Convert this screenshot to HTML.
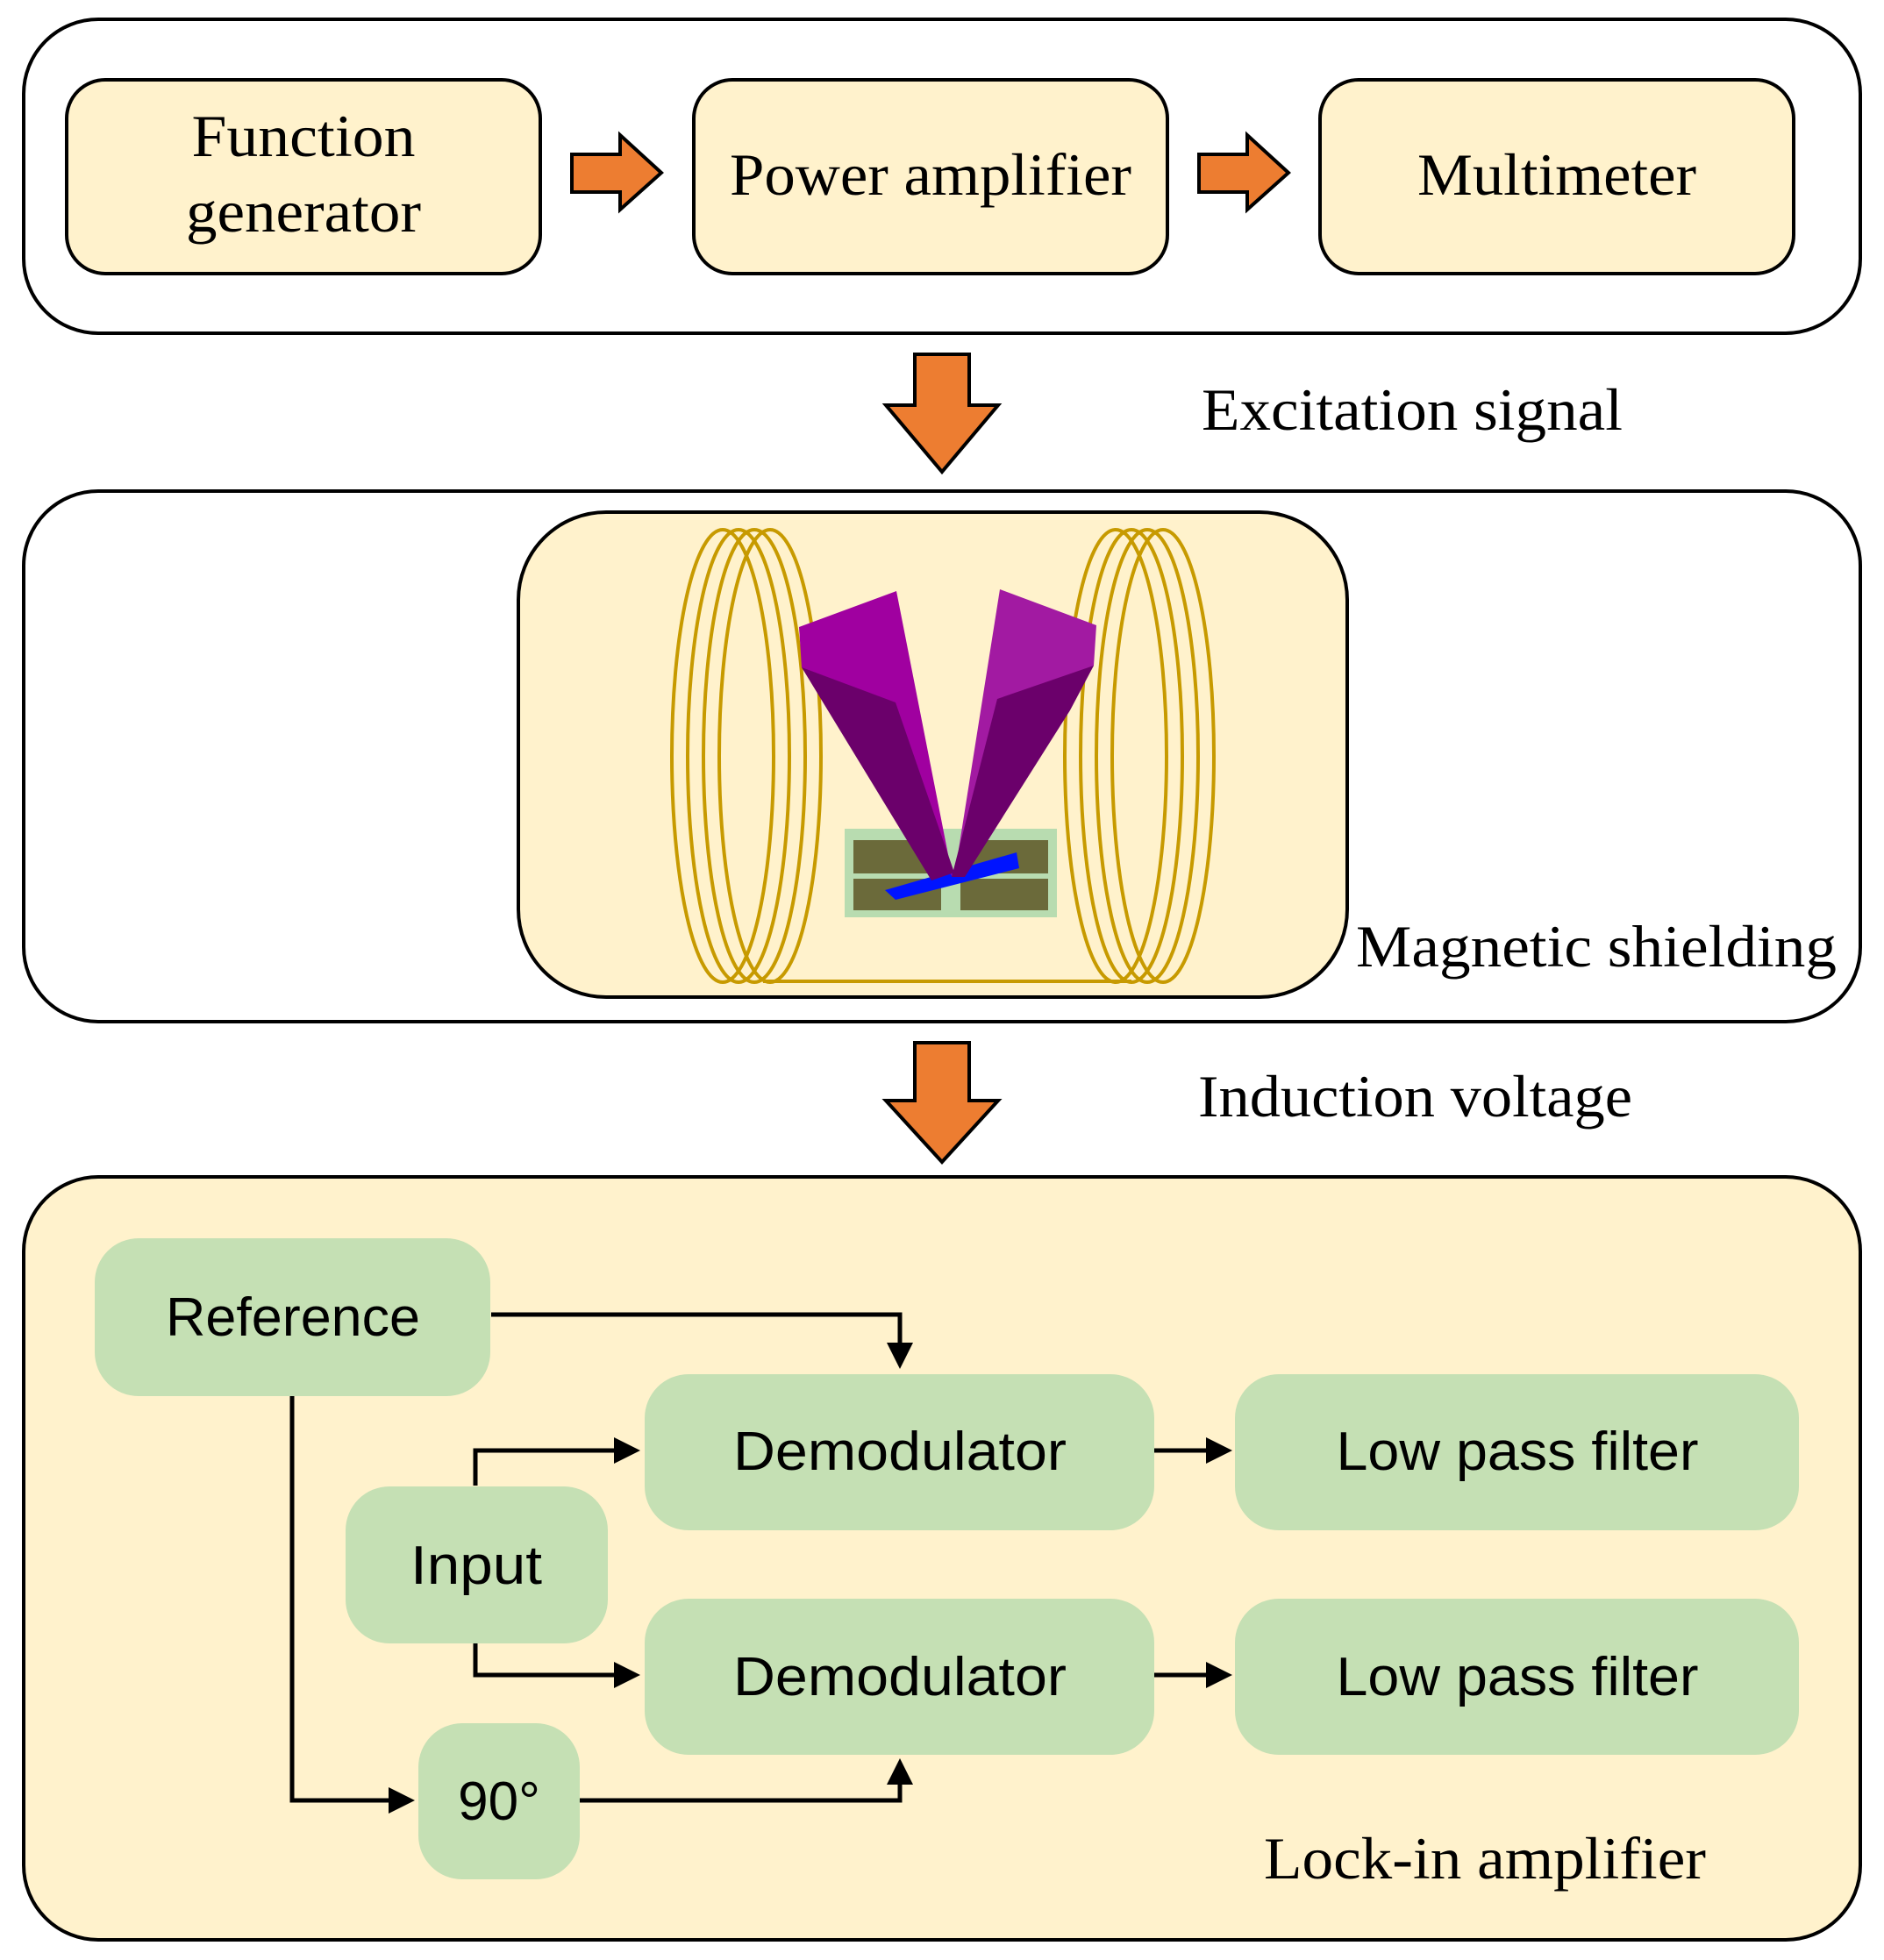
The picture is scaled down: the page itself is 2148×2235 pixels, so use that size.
<!DOCTYPE html>
<html><head><meta charset="utf-8"><style>html,body{margin:0;padding:0;background:#fff}svg{display:block}</style></head>
<body>
<svg width="2148" height="2235" viewBox="0 0 2148 2235" xmlns="http://www.w3.org/2000/svg">
<defs>
<marker id="ah" markerWidth="6" markerHeight="6" refX="5" refY="3" orient="auto" markerUnits="strokeWidth">
<path d="M0,0 L6,3 L0,6 z" fill="#000"/></marker>
</defs>
<g font-family="'Liberation Serif', serif" fill="#000">
<rect x="27" y="22" width="2094" height="358" rx="85" fill="#fff" stroke="#000" stroke-width="4"/>
<rect x="76" y="91" width="540" height="221" rx="44" fill="#fff2cc" stroke="#000" stroke-width="4"/>
<rect x="791" y="91" width="540" height="221" rx="44" fill="#fff2cc" stroke="#000" stroke-width="4"/>
<rect x="1505" y="91" width="540" height="221" rx="44" fill="#fff2cc" stroke="#000" stroke-width="4"/>
<text x="346" y="178" font-size="68" text-anchor="middle" textLength="255" lengthAdjust="spacingAndGlyphs">Function</text>
<text x="346" y="264" font-size="68" text-anchor="middle" textLength="268" lengthAdjust="spacingAndGlyphs">generator</text>
<text x="1061" y="222" font-size="68" text-anchor="middle" textLength="458" lengthAdjust="spacingAndGlyphs">Power amplifier</text>
<text x="1775" y="222" font-size="68" text-anchor="middle" textLength="318" lengthAdjust="spacingAndGlyphs">Multimeter</text>
<path d="M652,176 L707,176 L707,154 L754,197 L707,239 L707,219 L652,219 z" fill="#ed7d31" stroke="#000" stroke-width="4"/>
<path d="M1367,176 L1422,176 L1422,154 L1469,197 L1422,239 L1422,219 L1367,219 z" fill="#ed7d31" stroke="#000" stroke-width="4"/>
<path d="M1043,404 L1105,404 L1105,462 L1138,462 L1074,538 L1010,462 L1043,462 z" fill="#ed7d31" stroke="#000" stroke-width="4"/>
<text x="1370" y="490" font-size="68" textLength="480" lengthAdjust="spacingAndGlyphs">Excitation signal</text>
<rect x="27" y="560" width="2094" height="605" rx="85" fill="#fff" stroke="#000" stroke-width="4"/>
<rect x="591" y="584" width="945" height="553" rx="100" fill="#fff2cc" stroke="#000" stroke-width="4"/>
<g fill="none" stroke="#c79a00" stroke-width="4">
<ellipse cx="824" cy="862" rx="58" ry="258"/>
<ellipse cx="842" cy="862" rx="58" ry="258"/>
<ellipse cx="860" cy="862" rx="58" ry="258"/>
<ellipse cx="878" cy="862" rx="58" ry="258"/>
<ellipse cx="1272" cy="862" rx="58" ry="258"/>
<ellipse cx="1290" cy="862" rx="58" ry="258"/>
<ellipse cx="1308" cy="862" rx="58" ry="258"/>
<ellipse cx="1326" cy="862" rx="58" ry="258"/>
<line x1="870" y1="1119" x2="1290" y2="1119"/>
</g>
<rect x="963" y="945" width="242" height="101" fill="#b8dcb0"/>
<rect x="973" y="958" width="100" height="38" fill="#6b6a3a"/>
<rect x="1095" y="958" width="100" height="38" fill="#6b6a3a"/>
<rect x="973" y="1002" width="100" height="36" fill="#6b6a3a"/>
<rect x="1095" y="1002" width="100" height="36" fill="#6b6a3a"/>
<path d="M1009,1015 L1159,972 L1162,990 L1021,1026 z" fill="#0014ff"/>
<path d="M911,715 L1022,674 L1086,1000 L914,761 z" fill="#a000a0"/>
<path d="M1140,672 L1250,713 L1247,759 L1088,1000 z" fill="#a21aa2"/>
<path d="M914,761 L1021,801 L1088,995 L1062,1004 z" fill="#6b006b"/>
<path d="M1137,797 L1247,759 L1220,810 L1100,1000 L1085,1000 z" fill="#6b006b"/>
<text x="1546" y="1102" font-size="68" textLength="548" lengthAdjust="spacingAndGlyphs">Magnetic shielding</text>
<path d="M1043,1189 L1105,1189 L1105,1255 L1138,1255 L1074,1325 L1010,1255 L1043,1255 z" fill="#ed7d31" stroke="#000" stroke-width="4"/>
<text x="1366" y="1273" font-size="68" textLength="495" lengthAdjust="spacingAndGlyphs">Induction voltage</text>
<rect x="27" y="1342" width="2094" height="870" rx="85" fill="#fff2cc" stroke="#000" stroke-width="4"/>
</g>
<g fill="#c5e0b4">
<rect x="108" y="1412" width="451" height="180" rx="50"/>
<rect x="735" y="1567" width="581" height="178" rx="50"/>
<rect x="1408" y="1567" width="643" height="178" rx="50"/>
<rect x="394" y="1695" width="299" height="179" rx="50"/>
<rect x="735" y="1823" width="581" height="178" rx="50"/>
<rect x="1408" y="1823" width="643" height="178" rx="50"/>
<rect x="477" y="1965" width="184" height="178" rx="50"/>
</g>
<g font-family="'Liberation Sans', sans-serif" font-size="62" fill="#000" text-anchor="middle">
<text x="334" y="1523" textLength="290" lengthAdjust="spacingAndGlyphs">Reference</text>
<text x="1026" y="1676" textLength="380" lengthAdjust="spacingAndGlyphs">Demodulator</text>
<text x="1730" y="1676" textLength="413" lengthAdjust="spacingAndGlyphs">Low pass filter</text>
<text x="543" y="1806" textLength="150" lengthAdjust="spacingAndGlyphs">Input</text>
<text x="1026" y="1933" textLength="380" lengthAdjust="spacingAndGlyphs">Demodulator</text>
<text x="1730" y="1933" textLength="413" lengthAdjust="spacingAndGlyphs">Low pass filter</text>
<text x="569" y="2075">90°</text>
</g>
<g fill="none" stroke="#000" stroke-width="5">
<path d="M560,1499 L1026,1499 L1026,1556" marker-end="url(#ah)"/>
<path d="M542,1694 L542,1654 L725,1654" marker-end="url(#ah)"/>
<path d="M542,1874 L542,1910 L725,1910" marker-end="url(#ah)"/>
<path d="M333,1592 L333,2053 L468,2053" marker-end="url(#ah)"/>
<path d="M661,2053 L1026,2053 L1026,2010" marker-end="url(#ah)"/>
<path d="M1316,1654 L1400,1654" marker-end="url(#ah)"/>
<path d="M1316,1910 L1400,1910" marker-end="url(#ah)"/>
</g>
<text x="1441" y="2142" font-family="'Liberation Serif', serif" font-size="68" textLength="504" lengthAdjust="spacingAndGlyphs">Lock-in amplifier</text>
</svg>
</body></html>
